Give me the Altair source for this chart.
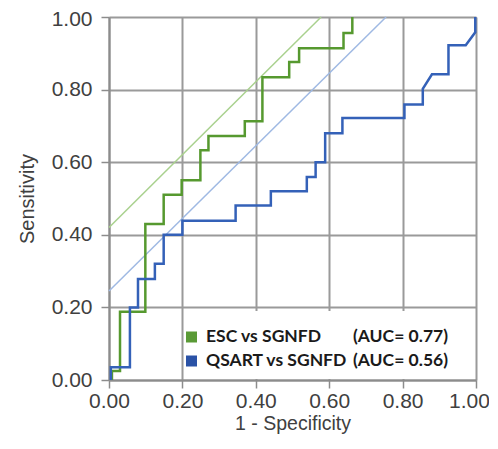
import altair as alt
import pandas as pd

# ROC curve corner points (1 - specificity, sensitivity)
esc_fpr = [0.008, 0.008, 0.03, 0.03, 0.099, 0.099, 0.149, 0.149, 0.198, 0.198, 0.249, 0.249,
           0.271, 0.271, 0.37, 0.37, 0.418, 0.418, 0.491, 0.491, 0.518, 0.518, 0.639, 0.639,
           0.663, 0.663]
esc_tpr = [0.0, 0.025, 0.025, 0.188, 0.188, 0.43, 0.43, 0.51, 0.51, 0.55, 0.55, 0.633,
           0.633, 0.672, 0.672, 0.713, 0.713, 0.834, 0.834, 0.876, 0.876, 0.914, 0.914, 0.956,
           0.956, 1.0]
qsart_fpr = [0.005, 0.005, 0.057, 0.057, 0.079, 0.079, 0.125, 0.125, 0.149, 0.149, 0.2, 0.2,
             0.345, 0.345, 0.441, 0.441, 0.539, 0.539, 0.563, 0.563, 0.589, 0.589, 0.636, 0.636,
             0.805, 0.805, 0.855, 0.855, 0.88, 0.925, 0.925, 0.972, 0.998, 0.998]
qsart_tpr = [0.0, 0.035, 0.035, 0.2, 0.2, 0.278, 0.278, 0.32, 0.32, 0.4, 0.4, 0.439,
             0.439, 0.481, 0.481, 0.52, 0.52, 0.559, 0.559, 0.6, 0.6, 0.68, 0.68, 0.722,
             0.722, 0.759, 0.759, 0.802, 0.842, 0.842, 0.922, 0.922, 0.958, 1.0]

# Tangent (reference) lines, endpoints
esc_ref_x = [0.0, 0.578]
esc_ref_y = [0.42, 1.0]
qsart_ref_x = [0.0, 0.755]
qsart_ref_y = [0.245, 1.0]

series_names = ["ESC vs SGNFD", "QSART vs SGNFD"]
auc_labels = ["(AUC= 0.77)", "(AUC= 0.56)"]
tick_values = [0.0, 0.1, 0.2, 0.3, 0.4, 0.5, 0.6, 0.7, 0.8, 0.9, 1.0]

curve_colors = ["#56992f", "#3461b8"]
ref_colors = ["#a9d18e", "#9fb9e3"]
legend_colors = ["#5a9a36", "#2a52a6"]

rows = []
for name, xs, ys in [(series_names[0], esc_fpr, esc_tpr), (series_names[1], qsart_fpr, qsart_tpr)]:
    for i, (a, b) in enumerate(zip(xs, ys)):
        rows.append({"series": name, "fpr": a, "tpr": b, "idx": i})
curves = pd.DataFrame(rows)

ref_rows = []
for name, xs, ys in [(series_names[0], esc_ref_x, esc_ref_y), (series_names[1], qsart_ref_x, qsart_ref_y)]:
    for i, (a, b) in enumerate(zip(xs, ys)):
        ref_rows.append({"series": name, "fpr": a, "tpr": b, "idx": i})
refs = pd.DataFrame(ref_rows)

minor_test = "round(datum.value*10) % 2 != 0"
label_expr = "round(datum.value*10) % 2 == 0 ? format(datum.value, '.2f') : ''"

def make_axis(title, title_pad, label_pad, title_size, last_offset):
    return alt.Axis(
        values=tick_values,
        labelExpr=label_expr,
        title=title,
        titleFont="Liberation Sans",
        titleFontSize=title_size,
        titleFontWeight="normal",
        titleColor="#404040",
        titlePadding=title_pad,
        labelFont="Liberation Sans",
        labelFontSize=21,
        labelColor="#404040",
        labelFlush=False,
        labelOverlap=False,
        labelPadding=label_pad,
        labelOffset={"condition": {"test": "datum.value >= 0.99", "value": last_offset}, "value": 0},
        domainColor="#8c8c8c",
        domainWidth=2,
        tickColor="#8c8c8c",
        tickWidth=1.5,
        tickSize={"condition": {"test": minor_test, "value": 5}, "value": 8},
        gridColor="#9a9a9a",
        gridWidth=2,
        gridOpacity={"condition": {"test": minor_test, "value": 0}, "value": 1},
    )

xscale = alt.Scale(domain=[0, 1], nice=False, zero=False)
yscale = alt.Scale(domain=[0, 1], nice=False, zero=False)

ref_lines = alt.Chart(refs).mark_line(strokeWidth=1.5).encode(
    x=alt.X("fpr:Q", scale=xscale, axis=make_axis("1 - Specificity", 3, 2, 19.5, -7)),
    y=alt.Y("tpr:Q", scale=yscale, axis=make_axis("Sensitivity", 14, 9, 20, 2)),
    color=alt.Color("series:N", scale=alt.Scale(domain=series_names, range=ref_colors), legend=None),
    order="idx:Q",
)

curve_lines = alt.Chart(curves).mark_line(strokeWidth=2.5).encode(
    x="fpr:Q",
    y="tpr:Q",
    detail="series:N",
    stroke=alt.Stroke("series:N", scale=alt.Scale(domain=series_names, range=curve_colors), legend=None),
    order="idx:Q",
)

box = alt.Chart(pd.DataFrame({"a": [0]})).mark_rect(color="white").encode(
    x=alt.value(75), x2=alt.value(365), y=alt.value(294), y2=alt.value(362)
)

legend_layers = []
row_y = [320, 344]
for k in range(2):
    d = pd.DataFrame({"name": [series_names[k]], "auc": [auc_labels[k]]})
    base = alt.Chart(d)
    legend_layers.append(
        base.mark_square(size=121, opacity=1, color=legend_colors[k]).encode(
            x=alt.value(82.5), y=alt.value(row_y[k])
        )
    )
    legend_layers.append(
        base.mark_text(align="left", baseline="middle", font="Lato", fontWeight="bold",
                       fontSize=17.5, color="#1a1a1a").encode(
            x=alt.value(97), y=alt.value(row_y[k]), text="name:N"
        )
    )
    legend_layers.append(
        base.mark_text(align="right", baseline="middle", font="Lato", fontWeight="bold",
                       fontSize=17.5, color="#1a1a1a").encode(
            x=alt.value(339), y=alt.value(row_y[k]), text="auc:N"
        )
    )

chart = alt.layer(ref_lines, curve_lines, box, *legend_layers).resolve_scale(
    color="independent"
).properties(
    width=367,
    height=363,
    padding={"left": 101, "top": 9, "right": 13, "bottom": 55},
    autosize=alt.AutoSizeParams(type="none"),
).configure_view(stroke=None)

chart.save("out.html", embed_options={"renderer": "svg", "actions": False})
